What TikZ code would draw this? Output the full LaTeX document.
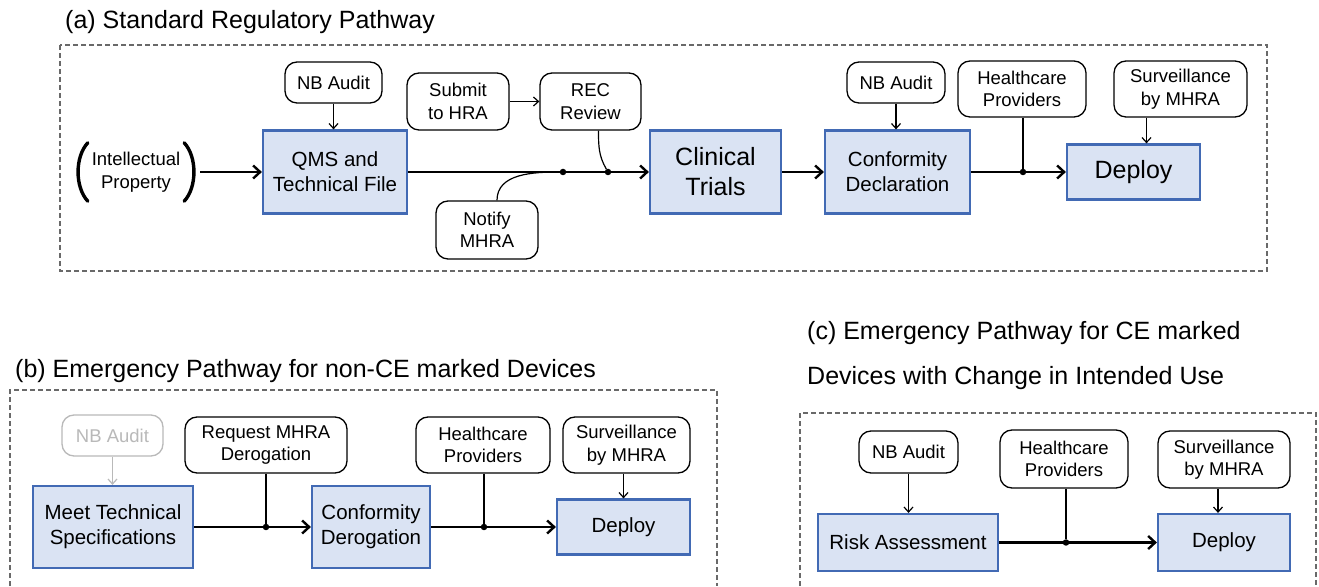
\documentclass[tikz,border=0pt]{standalone}
\usepackage{fontspec}
\setmainfont{Liberation Sans}
\usetikzlibrary{arrows.meta, positioning, calc}
\definecolor{BoxFill}{RGB}{218,227,243}
\definecolor{BoxLine}{RGB}{66,106,180}
\definecolor{FrameGray}{RGB}{105,105,105}
\definecolor{FadedGray}{RGB}{185,185,185}

\begin{document}
\begin{tikzpicture}[
    x=1pt, y=1pt,
    font=\fontsize{18.5}{22.5}\selectfont,
    stagebox/.style={draw=BoxLine, line width=2.2pt, fill=BoxFill, align=center,
        inner sep=2pt, font=\fontsize{20.5}{25}\selectfont},
    bigtext/.style={font=\fontsize{25}{30}\selectfont},
    actor/.style={draw, line width=1.3pt, rounded corners=12pt, fill=white, align=center,
        inner sep=2pt, minimum height=56},
    flow/.style={line width=2.4pt, -{Straight Barb[length=7pt,width=13pt]}},
    feed/.style={line width=1.2pt, -{Straight Barb[length=5pt,width=9pt]}},
    tap/.style={line width=1.2pt},
    junction/.style={circle, fill, inner sep=0pt, minimum size=6.5pt},
    frame/.style={draw=FrameGray, line width=1.1pt, dash pattern=on 5pt off 3pt},
    paren/.style={line width=3.4pt, line cap=round},
    panel title/.style={font=\fontsize{25}{30}\selectfont, anchor=west, inner sep=0pt},
]
\useasboundingbox (0,0) rectangle (1319,586);

% ---- (a) Standard Regulatory Pathway ----
\node[panel title] (ta) at (65,564) {(a) Standard Regulatory Pathway};
\draw[frame] (60,541) rectangle (1267,315);

\node[align=center, minimum width=128, minimum height=58, inner sep=0pt] (ip) at (136,414)
    {Intellectual\\Property};
\draw[paren] ([xshift=16]ip.north west) .. controls ([xshift=3,yshift=-14]ip.north west)
    and ([xshift=3,yshift=14]ip.south west) .. ([xshift=16]ip.south west);
\draw[paren] ([xshift=-16]ip.north east) .. controls ([xshift=-3,yshift=-14]ip.north east)
    and ([xshift=-3,yshift=14]ip.south east) .. ([xshift=-16]ip.south east);

\node[stagebox, minimum width=144, minimum height=83] (qms) at (335,414) {QMS and\\Technical File};
\node[actor, minimum width=97, minimum height=41] (nba) at (333.5,503.5) {NB Audit};
\node[actor, minimum width=102, minimum height=57] (hra) at (458,484.5) {Submit\\to HRA};
\node[actor, minimum width=101, minimum height=57] (rec) at (590.5,484.5) {REC\\Review};
\node[actor, minimum width=102, minimum height=58] (notify) at (487,356) {Notify\\MHRA};
\node[stagebox, bigtext, minimum width=131, minimum height=83] (trials) at (715.5,414) {Clinical\\Trials};
\node[stagebox, minimum width=145, minimum height=83] (decl) at (897.5,414) {Conformity\\Declaration};
\node[actor, minimum width=98, minimum height=41] (nbb) at (896,503.5) {NB Audit};
\node[actor, minimum width=128] (hpa) at (1022,497) {Healthcare\\Providers};
\node[stagebox, bigtext, minimum width=133, minimum height=55] (depa) at (1133.5,414) {Deploy};
\node[actor, minimum width=133] (sva) at (1180.5,497) {Surveillance\\by MHRA};

\node[junction] (ja1) at (563,414) {};
\node[junction] (ja2) at (608,414) {};
\node[junction] (ja3) at (1023,414) {};

\draw[flow] (ip) -- (qms);
\draw[flow] (qms) -- (trials);
\draw[flow] (trials) -- (decl);
\draw[flow] (decl) -- (depa);
\draw[feed] (nba) -- (nba |- qms.north);
\draw[feed] (hra) -- (rec);
\draw[tap] ([xshift=8]rec.south) to[out=-90,in=120] (ja2);
\draw[tap] ([xshift=10]notify.north) to[out=90,in=180] (ja1);
\draw[feed] (nbb) -- (nbb |- decl.north);
\draw[tap] (hpa.south -| ja3) -- (ja3);
\draw[feed] ([xshift=-34]sva.south) -- ([xshift=-34]sva.south |- depa.north);

% ---- (b) Emergency Pathway for non-CE marked Devices ----
\node[panel title] (tb) at (15,215) {(b) Emergency Pathway for non-CE marked Devices};
\draw[frame] (10,0) |- (717,196) -- (717,0);

\node[actor, draw=FadedGray, text=FadedGray, minimum width=101, minimum height=41] (nbg) at (112.5,150.5) {NB Audit};
\node[stagebox, minimum width=160, minimum height=82] (spec) at (113,59) {Meet Technical\\Specifications};
\node[actor, minimum width=162] (req) at (266,141) {Request MHRA\\Derogation};
\node[stagebox, minimum width=118, minimum height=82] (derog) at (371,59) {Conformity\\Derogation};
\node[actor, minimum width=134] (hpb) at (483,141) {Healthcare\\Providers};
\node[stagebox, minimum width=133, minimum height=55] (depb) at (623.5,59) {Deploy};
\node[actor, minimum width=127] (svb) at (626.5,141) {Surveillance\\by MHRA};

\node[junction] (jb1) at (266,59) {};
\node[junction] (jb2) at (484,59) {};

\draw[feed, draw=FadedGray] (nbg) -- (nbg |- spec.north);
\draw[flow] (spec) -- (derog);
\draw[flow] (derog) -- (depb);
\draw[tap] (req.south -| jb1) -- (jb1);
\draw[tap] (hpb.south -| jb2) -- (jb2);
\draw[feed] (svb.south -| depb) -- (depb);

% ---- (c) Emergency Pathway for CE marked Devices with Change in Intended Use ----
\node[panel title] (tc1) at (807,253) {(c) Emergency Pathway for CE marked};
\node[panel title] (tc2) at (807,208) {Devices with Change in Intended Use};
\draw[frame] (800,0) |- (1316,173) -- (1316,0);

\node[actor, minimum width=99, minimum height=42] (nbc) at (908.5,134) {NB Audit};
\node[stagebox, minimum width=180, minimum height=57] (risk) at (908,43.5) {Risk Assessment};
\node[actor, minimum width=128, minimum height=58] (hpc) at (1064,127) {Healthcare\\Providers};
\node[stagebox, minimum width=132, minimum height=57] (depc) at (1224,43.5) {Deploy};
\node[actor, minimum width=132, minimum height=57] (svc) at (1224,126.5) {Surveillance\\by MHRA};

\node[junction] (jc1) at (1066,43.5) {};

\draw[feed] (nbc) -- (nbc |- risk.north);
\draw[flow] (risk) -- (depc);
\draw[tap] (hpc.south -| jc1) -- (jc1);
\draw[feed] ([xshift=-6]svc.south) -- ([xshift=-6]svc.south |- depc.north);

\end{tikzpicture}
\end{document}
